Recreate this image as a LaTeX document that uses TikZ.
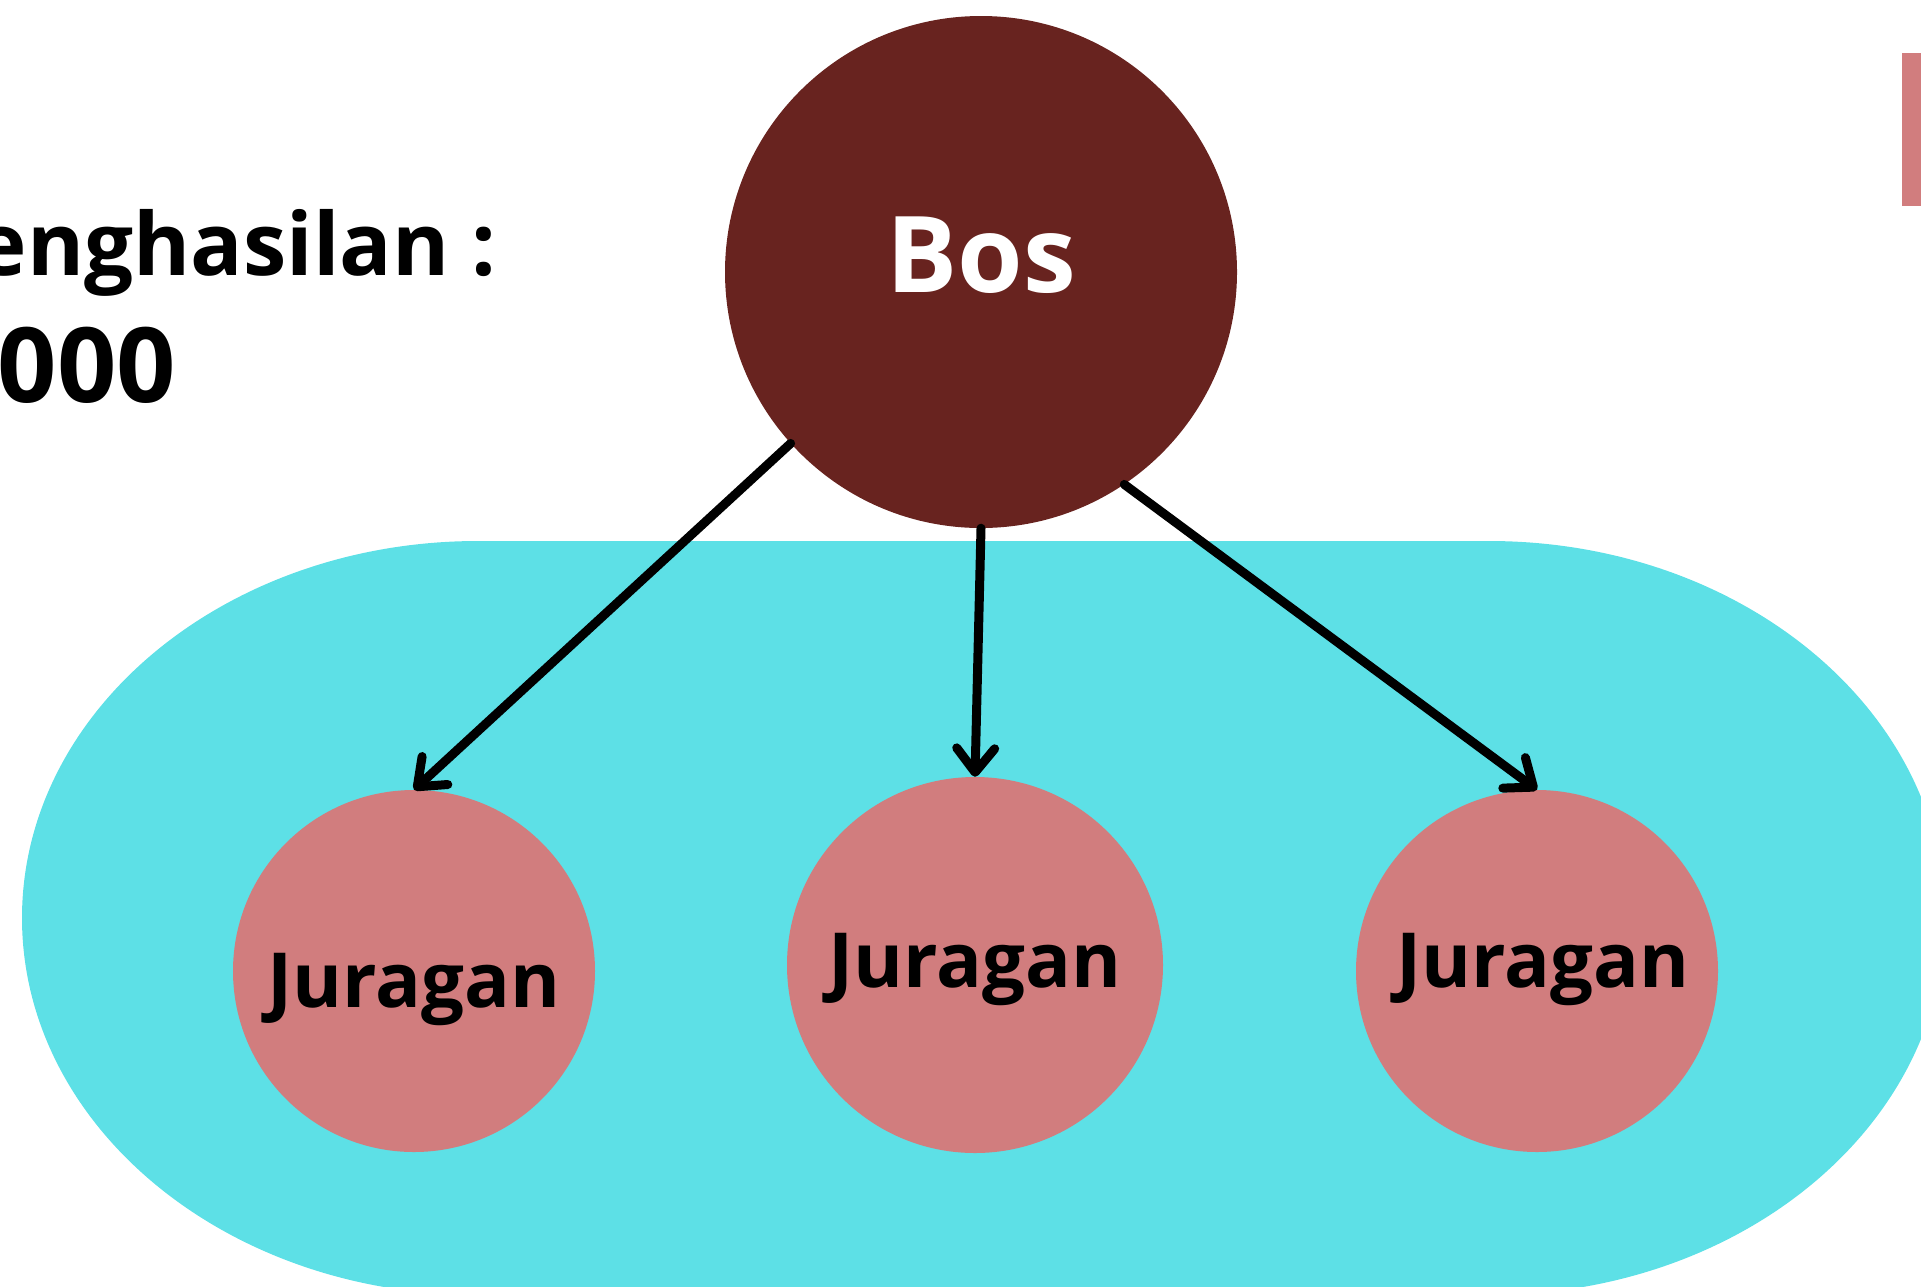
\documentclass[tikz,border=0pt]{standalone}
\usepackage{fontspec}
\setmainfont{Open Sans}
\usetikzlibrary{arrows.meta}
\definecolor{bosbrown}{HTML}{68231F}
\definecolor{cyanbg}{HTML}{5DE0E6}
\definecolor{pinkc}{HTML}{D17D7E}
\tikzset{
  bosnode/.style={circle, fill=bosbrown, minimum size=512pt, inner sep=0pt, text=white,
    text height=0pt, text depth=0pt, font=\fontsize{106}{110}\selectfont\bfseries},
  jurnode/.style={circle, fill=pinkc, inner sep=0pt, text=black,
    text height=0pt, text depth=0pt, font=\fontsize{76}{80}\selectfont\bfseries},
  link/.style={line width=9pt, line cap=round, -{Straight Barb[length=24pt, width=38pt, round]}},
  infotext/.style={inner sep=0pt, font=\fontsize{87}{100}\selectfont\bfseries}
}
\begin{document}
\begin{tikzpicture}[x=1pt, y=-1pt]
\useasboundingbox (0,0) rectangle (1921,1286);
\clip (0,0) rectangle (1921,1286);
% background blob
\fill[cyanbg] (478,541) -- (1489,541)
  arc[start angle=-90, end angle=90, x radius=456, y radius=377]
  -- (478,1295)
  arc[start angle=90, end angle=270, x radius=456, y radius=377] -- cycle;
% pink bar top right
\fill[pinkc] (1902,53) rectangle (1930,206);
% texts at left
\node[infotext, anchor=base east] (t1) at (497,275) {enghasilan :};
\node[infotext, anchor=base east, font=\fontsize{104}{100}\selectfont\bfseries] (t2) at (176,402) {000};
% nodes
\node[bosnode] (bos) at (981,272) {\raisebox{-20pt}{Bos}};
\node[jurnode, minimum size=362pt] (j1) at (414,971) {\raisebox{-36pt}{Juragan}};
\node[jurnode, minimum size=376pt] (j2) at (975,965) {\raisebox{-22pt}{Juragan}};
\node[jurnode, minimum size=362pt] (j3) at (1537,971) {\hspace{12pt}\raisebox{-16pt}{Juragan}};
% connectors
\draw[link] (bos.222) -- (j1.north);
\draw[link] (bos.south) -- (j2.north);
\draw[link] (bos.304) -- (j3.north);
\end{tikzpicture}
\end{document}
